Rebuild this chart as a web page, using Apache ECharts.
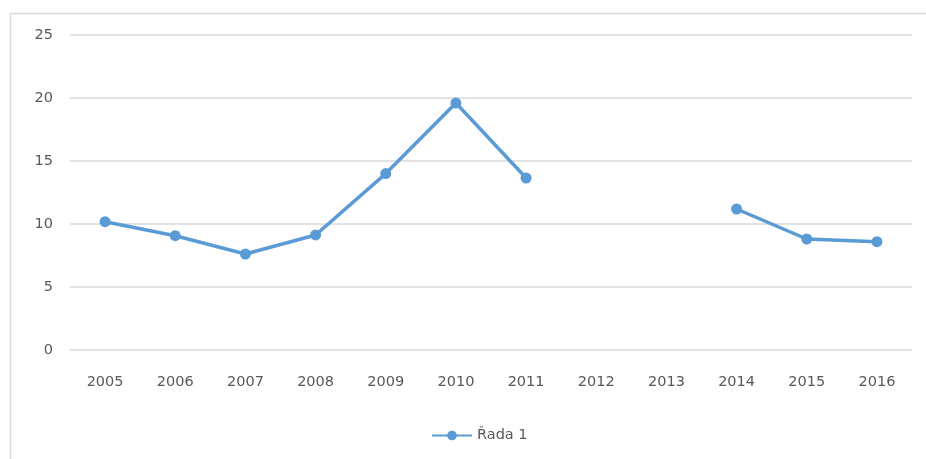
<!DOCTYPE html>
<html>
<head>
<meta charset="utf-8">
<script src="https://cdn.jsdelivr.net/npm/echarts@6/dist/echarts.min.js"></script>
<style>
html,body{margin:0;padding:0;background:#fff;}
#c{width:926px;height:459px;}
</style>
</head>
<body>
<div id="c"></div>
<script>
const categories = ['2005','2006','2007','2008','2009','2010','2011','2012','2013','2014','2015','2016'];
const seriesName = 'Řada 1';
const values = [10.18, 9.07, 7.62, 9.13, 14.0, 19.6, 13.65, null, null, 11.19, 8.81, 8.6];
const yTicks = { min: 0, max: 25, interval: 5 };

const chart = echarts.init(document.getElementById('c'), null, {renderer: 'canvas'});
const font = '"DejaVu Sans", "Noto Sans", sans-serif';
chart.setOption({
  animation: false,
  backgroundColor: '#fff',
  graphic: [{
    type: 'rect', silent: true, z: -1,
    shape: { x: 10.5, y: 13.5, width: 940, height: 480 },
    style: { fill: 'none', stroke: '#d9d9d9', lineWidth: 1.5 }
  }],
  grid: { left: 70, right: 14, top: 35, bottom: 109 },
  legend: {
    bottom: 11, left: 426,
    itemWidth: 40, itemHeight: 12, itemGap: 8,
    textStyle: { color: '#595959', fontSize: 14.5, fontFamily: font },
    data: [{ name: seriesName }]
  },
  xAxis: {
    type: 'category', data: categories, boundaryGap: true,
    axisLine: { show: false }, axisTick: { show: false },
    axisLabel: { color: '#595959', fontSize: 14.5, fontFamily: font, margin: 25, interval: 0 }
  },
  yAxis: {
    type: 'value', min: yTicks.min, max: yTicks.max, interval: yTicks.interval,
    axisLine: { show: false }, axisTick: { show: false },
    axisLabel: { color: '#595959', fontSize: 14.5, fontFamily: font, margin: 17 },
    splitLine: { lineStyle: { color: '#d9d9d9', width: 1.5 } }
  },
  series: [{
    name: seriesName, type: 'line', data: values,
    connectNulls: false,
    symbol: 'circle', symbolSize: 11,
    itemStyle: { color: '#5b9bd5' },
    lineStyle: { color: '#5b9bd5', width: 3.5 }
  }]
});
</script>
</body>
</html>
